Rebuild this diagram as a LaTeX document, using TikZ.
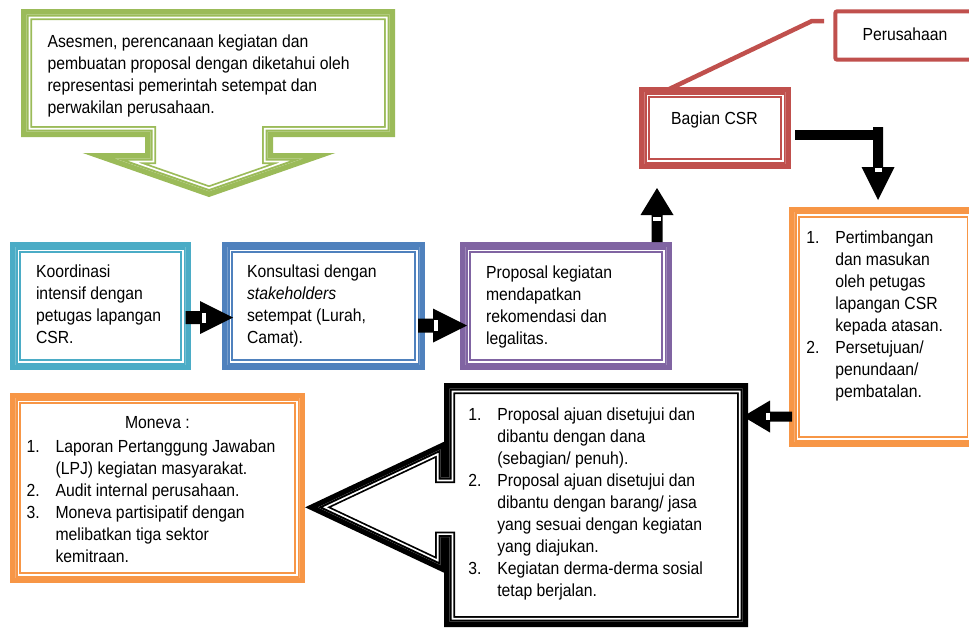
\documentclass[tikz,border=0pt]{standalone}
\usepackage{fontspec}
\setmainfont{Liberation Sans}[FakeStretch=0.9]
\usetikzlibrary{calc}
\definecolor{cGreen}{HTML}{9BBB59}
\definecolor{cCyan}{HTML}{4BACC6}
\definecolor{cBlue}{HTML}{4F81BD}
\definecolor{cPurple}{HTML}{8064A2}
\definecolor{cRed}{HTML}{C0504D}
\definecolor{cOrange}{HTML}{F79646}
% compound (thick-thin) outline, centred on the path
\newcommand\cmpd[2]{%
  \fill[white] #2;
  \draw[#1, line width=11pt, line join=miter, miter limit=10] #2;
  \begin{scope}
    \clip #2;
    \draw[white, line width=7.5pt, line join=miter] #2;
    \draw[#1, line width=4pt, line join=miter] #2;
  \end{scope}}
% horizontal block arrow: start, tip, shaft half, head length, head half, notch offset
\newcommand\harr[6]{%
  \fill[black] let \p1=#1, \p2=#2, \n1={sign(\x2-\x1)} in
   ({\x1},{\y1+#3}) -- ({\x2-\n1*#4},{\y1+#3}) -- ({\x2-\n1*#4},{\y1+#5}) -- ({\x2},{\y1})
   -- ({\x2-\n1*#4},{\y1-#5}) -- ({\x2-\n1*#4},{\y1-#3}) -- ({\x1},{\y1-#3}) -- cycle;
  \fill[white] let \p1=#1, \p2=#2, \n1={sign(\x2-\x1)} in
   ({\x2-\n1*(#4-(#6))},{\y1+#3-1.5pt}) rectangle ({\x2-\n1*(#4-(#6)-4pt)},{\y1-#3+1.5pt});}
% vertical block arrow
\newcommand\varr[6]{%
  \fill[black] let \p1=#1, \p2=#2, \n1={sign(\y2-\y1)} in
   ({\x1+#3},{\y1}) -- ({\x1+#3},{\y2-\n1*#4}) -- ({\x1+#5},{\y2-\n1*#4}) -- ({\x1},{\y2})
   -- ({\x1-#5},{\y2-\n1*#4}) -- ({\x1-#3},{\y2-\n1*#4}) -- ({\x1-#3},{\y1}) -- cycle;
  \fill[white] let \p1=#1, \p2=#2, \n1={sign(\y2-\y1)} in
   ({\x1+#3-1.5pt},{\y2-\n1*(#4-(#6))}) rectangle ({\x1-#3+1.5pt},{\y2-\n1*(#4-(#6)-4pt)});}
\newcommand\itm[2]{\makebox[29pt][l]{#1}#2}
\newcommand\cnt[1]{\makebox[29pt][l]{}#1}
\tikzset{
  txt/.style={inner sep=0pt, outer sep=0pt, anchor=north west, align=left,
    font=\fontsize{17.5pt}{22pt}\selectfont},
  lbl/.style={inner sep=0pt, outer sep=0pt, anchor=base,
    font=\fontsize{17.5pt}{22pt}\selectfont},
  boxn/.style={inner sep=0pt, outer sep=0pt, draw=none},
  redline/.style={cRed, line width=4.5pt}
}
\begin{document}
\begin{tikzpicture}[x=1pt,y=-1pt]
\useasboundingbox (0,0) rectangle (969,627);
\clip (0,0) rectangle (969,627);

% box frames (named nodes)
\node[boxn, minimum width=363pt, minimum height=117pt] (greenbox) at (208,73) {};
\node[boxn, minimum width=170pt, minimum height=117pt] (cyan) at (100.5,306) {};
\node[boxn, minimum width=192pt, minimum height=117pt] (blue) at (323.5,306) {};
\node[boxn, minimum width=201pt, minimum height=117pt] (purple) at (566,306) {};
\node[boxn, minimum width=141pt, minimum height=71pt] (csr) at (715,128) {};
\node[boxn, minimum width=164.7pt, minimum height=48.4pt] (perus) at (917.65,35.5) {};
\node[boxn, minimum width=177.5pt, minimum height=229.5pt] (orangeR) at (883.25,326.75) {};
\node[boxn, minimum width=284pt, minimum height=179pt] (moneva) at (157.5,488) {};
\node[boxn, minimum width=293pt, minimum height=233pt] (blackbox) at (596,505) {};

% line callout Perusahaan -> Bagian CSR
\coordinate (pc) at (824,21);
\draw[redline] (pc) -- ++(-12,0) -- ([xshift=17.5pt]csr.north west);

% Perusahaan box
\fill[white] (perus.north west) rectangle (perus.south east);
\draw[cRed, line width=4pt, rounded corners=2pt] (perus.north west) rectangle (perus.south east);

% green down-arrow callout
\cmpd{cGreen}{(26.5,14.5) -- (389.5,14.5) -- (389.5,131.5) -- (267.5,131.5) -- (267.5,158.5)
  -- (302.8,158.5) -- (209,191.2) -- (115.2,158.5) -- (150.5,158.5) -- (150.5,131.5)
  -- (26.5,131.5) -- cycle}

% rectangles
\cmpd{cCyan}{(cyan.north west) rectangle (cyan.south east)}
\cmpd{cBlue}{(blue.north west) rectangle (blue.south east)}
\cmpd{cPurple}{(purple.north west) rectangle (purple.south east)}
\cmpd{cRed}{(csr.north west) rectangle (csr.south east)}
\cmpd{cOrange}{(orangeR.north west) rectangle (orangeR.south east)}
\cmpd{cOrange}{(moneva.north west) rectangle (moneva.south east)}

% black left-arrow callout
\cmpd{black}{(449.5,388.5) -- (742.5,388.5) -- (742.5,621.5) -- (449.5,621.5) -- (449.5,537.2)
  -- (440.5,537.2) -- (440.5,565) -- (318,507.3) -- (440.5,449.5) -- (440.5,477.5)
  -- (449.5,477.5) -- cycle}

% block arrows
\coordinate (a1s) at ([yshift=-11.5pt]cyan.east);
\coordinate (a1t) at ([xshift=5.5pt,yshift=-11.5pt]blue.west);
\harr{(a1s)}{(a1t)}{6.5pt}{33pt}{16.5pt}{2pt}
\coordinate (a2s) at ([xshift=-1.5pt,yshift=-19.5pt]blue.east);
\coordinate (a2t) at ([xshift=1.5pt,yshift=-19.5pt]purple.west);
\harr{(a2s)}{(a2t)}{7pt}{34pt}{17pt}{0.5pt}
\coordinate (a3s) at ([xshift=91pt,yshift=5.5pt]purple.north);
\coordinate (a3t) at ([xshift=-58pt,yshift=-24.5pt]csr.south);
\varr{(a3s)}{(a3t)}{5.5pt}{27pt}{16.5pt}{-6pt}
\coordinate (elbS) at ([xshift=9.5pt,yshift=-7pt]csr.east);
\coordinate (elbT) at ([xshift=-5.25pt,yshift=12pt]orangeR.north);
\coordinate (elbC) at ($(elbS -| elbT)+(0,-8)$);
\fill[black] ($(elbS)+(0,-5)$) rectangle ($(elbS -| elbT)+(5,5)$);
\varr{(elbC)}{(elbT)}{5pt}{33pt}{16.5pt}{1pt}
\coordinate (a5s) at ([xshift=-2.5pt,yshift=-89.75pt]orangeR.west);
\coordinate (a5t) at ([xshift=0.5pt,yshift=88.5pt]blackbox.east);
\harr{(a5s)}{(a5t)}{5pt}{27pt}{16pt}{0pt}

% texts
\node[txt] (tgreen) at (47.5,31.6) {\strut Asesmen, perencanaan kegiatan dan\\pembuatan proposal dengan diketahui oleh\\representasi pemerintah setempat dan\\perwakilan perusahaan.};
\node[txt] (tcyan) at (36,261.6) {\strut Koordinasi\\intensif dengan\\petugas lapangan\\CSR.};
\node[txt] (tblue) at (247,261.6) {\strut Konsultasi dengan\\\textit{stakeholders}\\setempat (Lurah,\\Camat).};
\node[txt] (tpurple) at (486,262.6) {\strut Proposal kegiatan\\mendapatkan\\rekomendasi dan\\legalitas.};
\node[lbl] (tcsr) at (714.5,124) {Bagian CSR};
\node[lbl] (tperus) at (905,40) {Perusahaan};
\node[txt] (torange) at (806.3,228.1) {\strut\itm{1.}{Pertimbangan}\\\cnt{dan masukan}\\\cnt{oleh petugas}\\\cnt{lapangan CSR}\\\cnt{kepada atasan.}\\\itm{2.}{Persetujuan/}\\\cnt{penundaan/}\\\cnt{pembatalan.}};
\node[txt] (tblack) at (468.3,404.6) {\strut\itm{1.}{Proposal ajuan disetujui dan}\\\cnt{dibantu dengan dana}\\\cnt{(sebagian/ penuh).}\\\itm{2.}{Proposal ajuan disetujui dan}\\\cnt{dibantu dengan barang/ jasa}\\\cnt{yang sesuai dengan kegiatan}\\\cnt{yang diajukan.}\\\itm{3.}{Kegiatan derma-derma sosial}\\\cnt{tetap berjalan.}};
\node[lbl] (tmontitle) at (157.5,428) {Moneva :};
\node[txt] (tmoneva) at (26.6,437.3) {\strut\itm{1.}{Laporan Pertanggung Jawaban}\\\cnt{(LPJ) kegiatan masyarakat.}\\\itm{2.}{Audit internal perusahaan.}\\\itm{3.}{Moneva partisipatif dengan}\\\cnt{melibatkan tiga sektor}\\\cnt{kemitraan.}};
\end{tikzpicture}
\end{document}
